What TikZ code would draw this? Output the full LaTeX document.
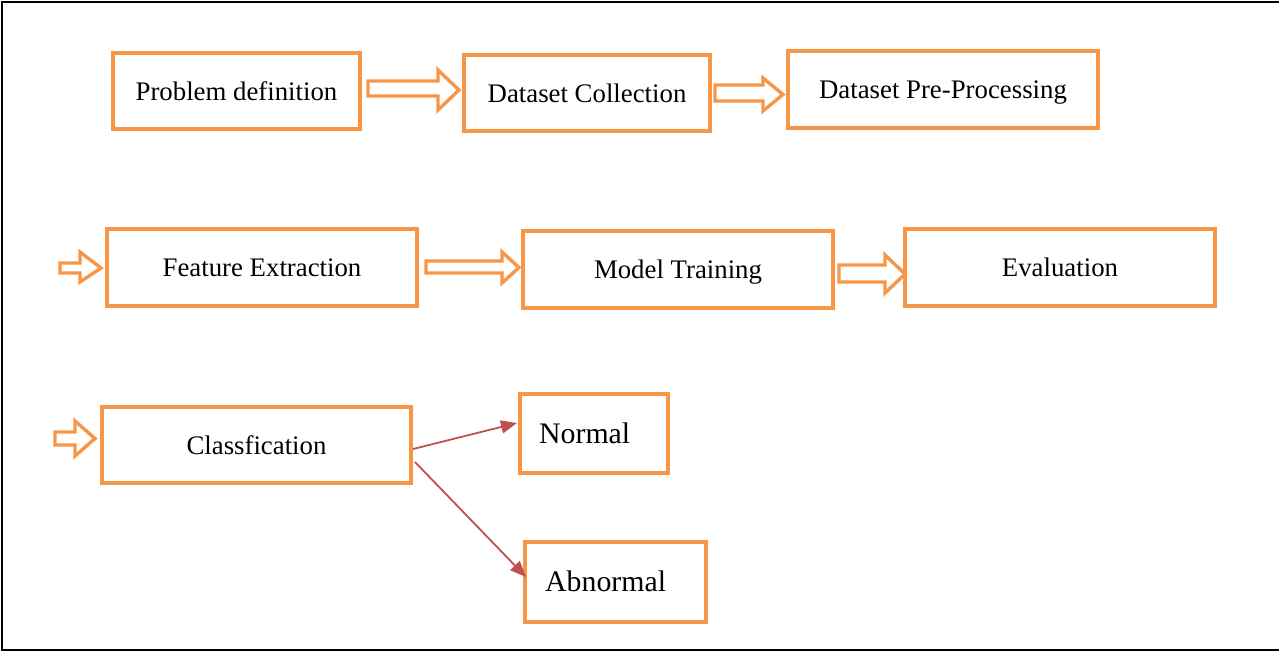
\documentclass[tikz,border=0pt]{standalone}
\usepackage{fontspec}
\setmainfont{Liberation Serif}
\usetikzlibrary{arrows.meta}
\definecolor{boxorange}{HTML}{F79646}
\definecolor{arrred}{HTML}{C0504D}
\tikzset{
  stepbox/.style={draw=boxorange, line width=3.6pt, fill=white, inner sep=0pt,
    font=\fontsize{26.8}{30}\selectfont, text=black, text height=18pt, text depth=0pt},
  blockarr/.style={draw=boxorange, line width=3.4pt, fill=white, line join=miter},
  redarr/.style={draw=arrred, line width=1.8pt, -{Triangle[length=16pt,width=13pt]}},
  lbl/.style={font=\fontsize{29.8}{33}\selectfont, text=black, inner sep=0pt, anchor=base west},
  frameline/.style={draw=black, line width=2pt}
}
\begin{document}
\begin{tikzpicture}[x=1pt,y=-1pt]
\useasboundingbox (0,0) rectangle (1279,651);
\draw[frameline] (1279,2) -- (2,2) -- (2,650) -- (1279,650);

% boxes
\node[stepbox, minimum width=247pt, minimum height=76pt] (pd) at (236.5,91) {Problem definition};
\node[stepbox, minimum width=246pt, minimum height=76pt] (dc) at (587,93) {Dataset Collection};
\node[stepbox, minimum width=310pt, minimum height=77pt] (dp) at (943,89.5) {Dataset Pre-Processing};
\node[stepbox, minimum width=310pt, minimum height=77pt] (fe) at (262,267.5) {Feature Extraction};
\node[stepbox, minimum width=310pt, minimum height=77pt] (mt) at (678,269.5) {Model Training};
\node[stepbox, minimum width=310pt, minimum height=77pt] (ev) at (1060,267.5) {Evaluation};
\node[stepbox, minimum width=309pt, minimum height=76pt] (cl) at (256.5,445) {Classfication};
\node[stepbox, minimum width=148pt, minimum height=79pt] (no) at (594,433.5) {};
\node[stepbox, minimum width=181pt, minimum height=80pt] (ab) at (615.5,582) {};
\node[lbl] (notxt) at (539,443) {Normal};
\node[lbl] (abtxt) at (545,591) {Abnormal};

% block arrows
\draw[blockarr] (368,81) -- (438,81) -- (438,70) -- (459,90) -- (438,110) -- (438,96) -- (368,96) -- cycle;
\draw[blockarr] (715,85) -- (763,85) -- (763,78) -- (783,94.5) -- (763,111) -- (763,101) -- (715,101) -- cycle;
\draw[blockarr] (60,263) -- (80,263) -- (80,252) -- (101,268) -- (80,282) -- (80,273) -- (60,273) -- cycle;
\draw[blockarr] (426,261) -- (502,261) -- (502,252) -- (519,267.5) -- (502,283) -- (502,273) -- (426,273) -- cycle;
\draw[blockarr] (839,265) -- (885,265) -- (885,255) -- (905,274) -- (885,293) -- (885,282) -- (839,282) -- cycle;
\draw[blockarr] (55,432) -- (75,432) -- (75,421) -- (95,438.5) -- (75,456) -- (75,445) -- (55,445) -- cycle;

% red arrows
\coordinate (c1) at (413,449);
\coordinate (c2) at (415,462);
\coordinate (n1) at (517,423);
\coordinate (a1) at (526,577);
\draw[redarr] (c1) -- (n1);
\draw[redarr] (c2) -- (a1);
\end{tikzpicture}
\end{document}
